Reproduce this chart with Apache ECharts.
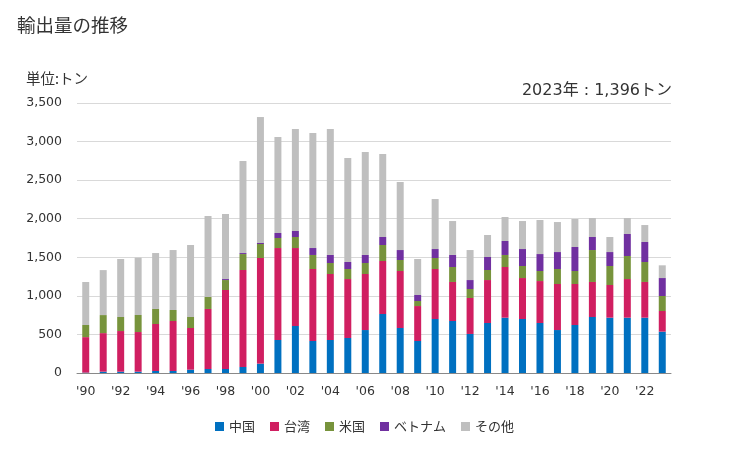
<!DOCTYPE html>
<html>
<head>
<meta charset="utf-8">
<script src="https://cdn.jsdelivr.net/npm/echarts@6/dist/echarts.min.js"></script>
<style>
html,body{margin:0;padding:0;background:#fff;}
#c{width:729px;height:450px;}
</style>
</head>
<body>
<div id="c"></div>
<script>
const years = ["'90","'91","'92","'93","'94","'95","'96","'97","'98","'99","'00","'01","'02","'03","'04","'05","'06","'07","'08","'09","'10","'11","'12","'13","'14","'15","'16","'17","'18","'19","'20","'21","'22","'23"];
const china   = [5,17,17,17,26,26,43,52,52,78,121,428,609,415,428,454,557,765,583,415,700,674,506,648,717,700,648,557,622,726,717,717,717,536];
const taiwan  = [460,500,527,514,609,648,540,778,1024,1257,1370,1192,1011,933,855,764,726,687,739,453,648,506,466,557,657,531,544,597,532,454,424,501,463,268];
const usa     = [157,234,182,221,195,143,143,155,129,207,181,130,143,182,143,130,143,207,143,65,143,194,117,130,156,156,130,194,168,414,246,299,259,194];
const vietnam = [0,0,0,0,0,0,0,0,13,13,13,65,78,90,104,91,104,104,129,78,116,156,116,169,181,220,220,220,311,169,181,285,259,233];
const other   = [558,583,752,743,725,777,933,1050,843,1193,1633,1244,1322,1491,1633,1348,1335,1076,882,467,648,440,389,285,311,363,441,389,363,246,195,207,220,165];
const seriesNames = ['中国','台湾','米国','ベトナム','その他'];
const colors = ['#0070c0','#d01f61','#77933c','#7030a0','#bfbfbf'];
const yTicks = [0,500,1000,1500,2000,2500,3000,3500];

const cjk = '"Noto Sans CJK JP","Noto Sans",sans-serif';
const num = '"DejaVu Sans","Noto Sans CJK JP",sans-serif';
const chart = echarts.init(document.getElementById('c'));
const dataArr = [china, taiwan, usa, vietnam, other];
chart.setOption({
  animation:false,
  textStyle:{fontFamily:cjk},
  title:[
    {text:'輸出量の推移', left:17, top:16, padding:0, textStyle:{fontSize:18.5, fontWeight:'normal', color:'#333', fontFamily:cjk}},
    {text:'単位:トン', left:26, top:71, padding:0, textStyle:{fontSize:14.5, fontWeight:'normal', color:'#333', fontFamily:cjk}},
    {text:'2023年 : 1,396トン', right:57, top:83, padding:0, textStyle:{fontSize:16, fontWeight:'normal', color:'#333', fontFamily:num}}
  ],
  legend:{
    bottom:12, left:'center', itemWidth:9, itemHeight:9, itemGap:15,
    icon:'rect', textStyle:{fontSize:13, color:'#333', fontFamily:cjk},
    data:seriesNames
  },
  grid:{left:77, right:58, top:103, bottom:77},
  xAxis:{
    type:'category', data:years,
    axisLine:{lineStyle:{color:'#898989'}},
    axisTick:{show:false},
    axisLabel:{interval:1, color:'#333', fontSize:12.5, margin:12, fontFamily:num}
  },
  yAxis:{
    type:'value', min:yTicks[0], max:yTicks[yTicks.length-1], interval:500,
    axisLine:{show:false}, axisTick:{show:false},
    splitLine:{lineStyle:{color:'#d9d9d9', width:1}},
    axisLabel:{color:'#333', fontSize:12.5, margin:15, fontFamily:num,
      formatter:v=>v.toLocaleString('en-US')}
  },
  series: seriesNames.map((n,i)=>({
    name:n, type:'bar', stack:'total', data:dataArr[i],
    barWidth:'40%', itemStyle:{color:colors[i]}
  }))
});
</script>
</body>
</html>
